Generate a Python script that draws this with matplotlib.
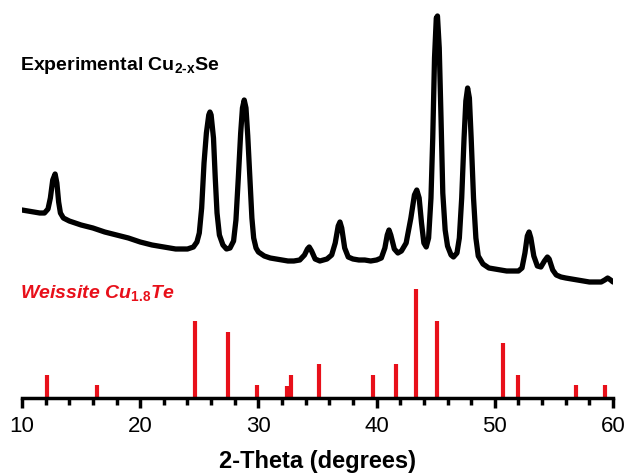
import numpy as np
import matplotlib
matplotlib.use("Agg")
import matplotlib.pyplot as plt
from matplotlib.ticker import MultipleLocator

plt.rcParams['font.family'] = ['Liberation Sans', 'DejaVu Sans']
plt.rcParams['mathtext.fontset'] = 'custom'
plt.rcParams['mathtext.rm'] = 'Liberation Sans:bold'
plt.rcParams['mathtext.bf'] = 'Liberation Sans:bold'
plt.rcParams['mathtext.it'] = 'Liberation Sans:bold:italic'

# experimental pattern (2-theta, intensity in arb. units)
exp_theta = [10.0, 10.5, 11.0, 11.5, 11.9, 12.2, 12.4, 12.6, 12.8, 12.95, 13.1, 13.25, 13.5, 14.0,
             15.0, 16.0, 17.0, 18.0, 19.0, 20.0, 21.0, 22.0, 23.0, 24.0, 24.5, 24.8, 25.0, 25.2,
             25.4, 25.6, 25.8, 25.9, 26.0, 26.2, 26.35, 26.5, 26.7, 27.0, 27.3, 27.6, 27.9, 28.1,
             28.3, 28.5, 28.65, 28.8, 28.95, 29.1, 29.3, 29.45, 29.6, 29.8, 30.0, 30.5, 31.0, 31.5,
             32.0, 32.5, 33.0, 33.5, 33.9, 34.15, 34.3, 34.5, 34.8, 35.2, 35.8, 36.2, 36.5, 36.75,
             36.9, 37.05, 37.3, 37.6, 38.0, 38.5, 39.0, 39.5, 40.0, 40.4, 40.7, 40.9, 41.05, 41.2,
             41.5, 41.8, 42.1, 42.5, 42.9, 43.2, 43.4, 43.6, 43.8, 44.0, 44.2, 44.4, 44.6, 44.75,
             44.9, 45.05, 45.15, 45.3, 45.45, 45.6, 45.8, 46.0, 46.3, 46.5, 46.8, 47.0, 47.2, 47.4,
             47.55, 47.7, 47.85, 48.0, 48.2, 48.4, 48.6, 49.0, 49.5, 50.0, 50.5, 51.0, 51.5, 52.0,
             52.3, 52.55, 52.75, 52.9, 53.05, 53.3, 53.6, 53.9, 54.2, 54.45, 54.6, 54.9, 55.2, 55.6,
             56.0, 56.5, 57.0, 57.5, 58.0, 58.5, 59.0, 59.3, 59.55, 59.8, 60.0]
exp_int = [188, 187, 186, 185, 185, 189, 200, 218, 224, 215, 196, 185, 180, 177,
           173, 170, 166, 163, 160, 156, 153, 151, 149, 149, 151, 156, 165, 190,
           235, 265, 283, 286, 283, 260, 220, 185, 163, 153, 149, 150, 157, 178,
           220, 265, 290, 298, 290, 262, 215, 180, 160, 150, 146, 142, 140, 139,
           138, 137, 137, 138, 143, 149, 151, 147, 139, 137, 139, 143, 155, 172,
           176, 170, 150, 141, 139, 138, 138, 137, 138, 140, 150, 163, 168, 163,
           149, 145, 147, 155, 180, 203, 208, 200, 175, 155, 151, 160, 200, 260,
           340, 380, 382, 350, 280, 205, 168, 152, 143, 141, 145, 160, 200, 260,
           297, 310, 300, 260, 200, 160, 142, 134, 130, 129, 128, 127, 127, 127,
           130, 145, 162, 166, 160, 142, 132, 131, 137, 141, 139, 128, 123, 121,
           120, 119, 118, 117, 116, 116, 116, 118, 120, 118, 116]

# reference lines for weissite Cu1.8Te
ref_theta = [12.1, 16.35, 24.6, 27.4, 29.9, 32.4, 32.8, 35.1, 39.7, 41.6, 43.3, 45.1, 50.7, 52.0, 56.9, 59.3]
ref_int = [23, 13, 77, 66, 13, 12, 23, 34, 23, 34, 109, 77, 55, 23, 13, 13]

fig = plt.figure(figsize=(6.26, 4.75), dpi=100)
ax = fig.add_axes([22 / 626, 77 / 475, 591 / 626, 388 / 475])

ax.plot(exp_theta, exp_int, color='black', lw=3.8, solid_joinstyle='round', solid_capstyle='round')
ax.vlines(ref_theta, 0, ref_int, color='#e8101a', lw=3.0)

ax.set_xlim(10, 60)
ax.set_ylim(0, 388)
for s in ['top', 'right', 'left']:
    ax.spines[s].set_visible(False)
ax.spines['bottom'].set_linewidth(2.5)
ax.set_yticks([])
ax.xaxis.set_major_locator(MultipleLocator(10))
ax.xaxis.set_minor_locator(MultipleLocator(2))
ax.tick_params(axis='x', which='major', direction='out', length=7, width=2.5, labelsize=16, pad=6)
ax.tick_params(axis='x', which='minor', direction='out', length=5, width=2.5)
ax.set_xlabel('2-Theta (degrees)', fontsize=17, fontweight='bold', labelpad=9)

fig.text(20 / 626, 1 - 65 / 475, r'Experimental Cu$_\text{2-x}$Se', fontsize=14,
         fontweight='bold', va='center', ha='left')
fig.text(20 / 626, 1 - 293 / 475, r'Weissite Cu$_{\mathit{1.8}}$Te', fontsize=14,
         fontweight='bold', fontstyle='italic', color='#e8101a', va='center', ha='left')

fig.savefig('out.png', dpi=100)
